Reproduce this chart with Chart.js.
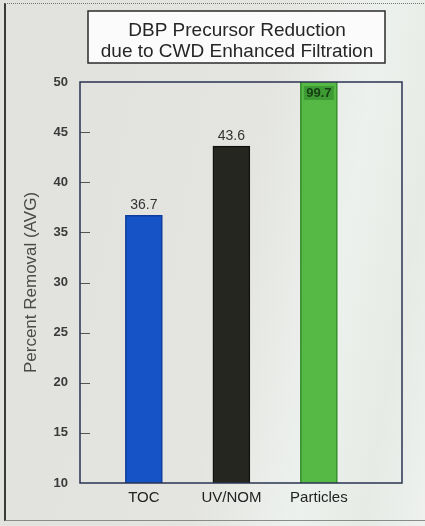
<!DOCTYPE html>
<html>
<head>
<meta charset="utf-8">
<script src="https://cdn.jsdelivr.net/npm/chart.js@4/dist/chart.umd.min.js"></script>
<style>
  html, body { margin: 0; padding: 0; }
  body {
    width: 425px; height: 526px; overflow: hidden;
    background: linear-gradient(100deg, #e1e1dd 0%, #e4e5e1 55%, #edf1ed 75%, #e6ebe6 88%, #eef1ee 100%);
  }
  #frame {
    position: absolute; left: 4px; top: 3px; width: 430px; height: 516px;
    border-left: 2px solid #3a3a3a; border-top: 1px dotted #777; border-bottom: 1px solid #8a8a8a;
  }
  #wrap { position: absolute; left: 0; top: 0; width: 425px; height: 526px; }
</style>
</head>
<body>
<div id="frame"></div>
<div id="wrap"><canvas id="c" width="425" height="526"></canvas></div>
<script>
// Average percent removal by precursor type
const categories = ['TOC', 'UV/NOM', 'Particles'];
const removal = [36.7, 43.6, 99.7];
const barColors = ['#1553c6', '#25261f', '#56b845'];
const barEdges = ['#0d3c9c', '#111111', '#2f8a26'];
const yTicks = [10, 15, 20, 25, 30, 35, 40, 45, 50];
const titleLines = ['DBP Precursor Reduction', 'due to CWD Enhanced Filtration'];

const FONT = '"Liberation Sans", Arial, Helvetica, sans-serif';

// Boxed two-line title above the plot
const titleBox = {
  id: 'titleBox',
  afterDraw(chart) {
    const ctx = chart.ctx;
    ctx.save();
    const cx = 237;
    ctx.fillStyle = '#fbfbfb';
    ctx.fillRect(88, 11, 297, 52);
    ctx.strokeStyle = '#2b2b2b';
    ctx.lineWidth = 1.5;
    ctx.strokeRect(88, 11, 297, 52);
    ctx.fillStyle = '#262626';
    ctx.font = '19px ' + FONT;
    ctx.textAlign = 'center';
    ctx.textBaseline = 'middle';
    ctx.fillText(titleLines[0], cx, 31);
    ctx.fillText(titleLines[1], cx, 52);
    ctx.restore();
  }
};

// Plot frame, inward y ticks and value labels
const plotDecor = {
  id: 'plotDecor',
  afterDatasetsDraw(chart) {
    const ctx = chart.ctx;
    const a = chart.chartArea;
    const y = chart.scales.y;
    ctx.save();
    ctx.strokeStyle = '#555';
    ctx.lineWidth = 1;
    yTicks.forEach(v => {
      if (v === y.min || v === y.max) return;
      const py = Math.round(y.getPixelForValue(v)) + 0.5;
      ctx.beginPath();
      ctx.moveTo(a.left, py);
      ctx.lineTo(a.left + 10, py);
      ctx.stroke();
    });
    const meta = chart.getDatasetMeta(0);
    ctx.textAlign = 'center';
    ctx.textBaseline = 'middle';
    meta.data.forEach((bar, i) => {
      const v = removal[i];
      const txt = v.toFixed(1);
      if (v > y.max) {
        const ty = a.top + 11;
        ctx.fillStyle = '#3e9a33';
        ctx.fillRect(bar.x - 15, ty - 7, 30, 14);
        ctx.fillStyle = '#163f14';
        ctx.font = 'bold 13px ' + FONT;
        ctx.fillText(txt, bar.x, ty);
      } else {
        ctx.fillStyle = '#333';
        ctx.font = '14px ' + FONT;
        ctx.fillText(txt, bar.x, bar.y - 10);
      }
    });
    ctx.strokeStyle = '#2a3350';
    ctx.lineWidth = 1.5;
    ctx.strokeRect(a.left, a.top, a.right - a.left, a.bottom - a.top);
    ctx.restore();
  }
};

new Chart(document.getElementById('c'), {
  type: 'bar',
  data: {
    datasets: [{
      data: removal.map((v, i) => ({ x: i + 1, y: v })),
      backgroundColor: barColors,
      borderColor: barEdges,
      borderWidth: 1.5
    }]
  },
  options: {
    responsive: false,
    animation: false,
    events: [],
    datasets: { bar: { barThickness: 37 } },
    layout: { padding: { left: 3, right: 23, top: 82, bottom: 0 } },
    plugins: { legend: { display: false }, tooltip: { enabled: false }, title: { display: false } },
    scales: {
      x: {
        type: 'linear',
        offset: false,
        min: 0.27,
        max: 3.95,
        afterBuildTicks(scale) { scale.ticks = categories.map((c, i) => ({ value: i + 1 })); },
        afterFit(scale) { scale.height = 43; },
        grid: { display: false, drawTicks: false, offset: false },
        border: { display: false },
        ticks: {
          padding: 6,
          color: '#222',
          font: { family: FONT, size: 15 },
          callback: v => categories[v - 1] || ''
        }
      },
      y: {
        min: 10,
        max: 50,
        afterBuildTicks(scale) { scale.ticks = yTicks.map(v => ({ value: v })); },
        afterFit(scale) { scale.width = 77; },
        grid: { display: false, drawTicks: false },
        border: { display: false },
        ticks: {
          padding: 12,
          color: '#3a3a3a',
          font: { family: FONT, size: 13, weight: 'bold' }
        },
        title: {
          display: true,
          text: 'Percent Removal (AVG)',
          color: '#4a4a4a',
          font: { family: FONT, size: 17 },
          padding: { top: 18, bottom: 0 }
        }
      }
    }
  },
  plugins: [titleBox, plotDecor]
});
</script>
</body>
</html>
